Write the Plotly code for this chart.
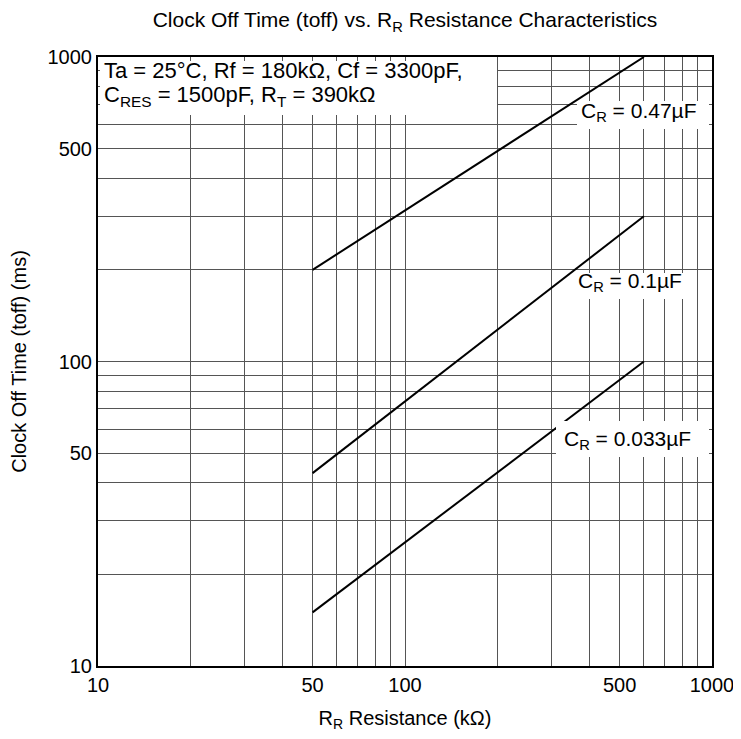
import plotly.graph_objects as go

# Data
r_kohm = [50, 600]
toff_047 = [200, 1000]
toff_01 = [43, 300]
toff_0033 = [15, 100]

series_names = ["C<sub>R</sub> = 0.47µF", "C<sub>R</sub> = 0.1µF", "C<sub>R</sub> = 0.033µF"]
series_values = [toff_047, toff_01, toff_0033]

major_ticks = [10, 50, 100, 500, 1000]
major_text = ["10", "50", "100", "500", "1000"]
minor_ticks = [20, 30, 40, 60, 70, 80, 90, 200, 300, 400, 600, 700, 800, 900]

cond_line1 = "Ta = 25°C, Rf = 180kΩ, Cf = 3300pF,"
cond_line2 = "C<sub>RES</sub> = 1500pF, R<sub>T</sub> = 390kΩ"

# ---- layout geometry (pixels in the page) ----
PL, PR, PT, PB = 98, 712, 57, 666


def px(x):
    return (x - PL) / (PR - PL)


def py(y):
    return (PB - y) / (PB - PT)


label_pos = [(580, 112), (577, 282), (563, 440)]            # text left, text centre
mask_boxes = [(100, 497, 61, 115),                            # conditions box
              (577, 709, 101, 129), (576, 690, 273, 299), (556, 709, 421, 457)]
cond_pos = [(103, 70.5), (103, 96)]

FONT = "Liberation Sans, Arial, sans-serif"
GRID = "#555555"

fig = go.Figure()
for name, ys in zip(series_names, series_values):
    fig.add_trace(go.Scatter(x=r_kohm, y=ys, mode="lines",
                             line=dict(color="black", width=2),
                             name=name, showlegend=False, hoverinfo="skip"))

# white boxes that hide the grid behind the texts
for (x0, x1, y0, y1) in mask_boxes:
    fig.add_annotation(text=" ", xref="paper", yref="paper", x=px(x0), y=py(y0),
                       xanchor="left", yanchor="top", showarrow=False,
                       width=x1 - x0, height=y1 - y0, borderpad=0, borderwidth=0,
                       bgcolor="white", font=dict(size=1))

for name, (xl, yl) in zip(series_names, label_pos):
    fig.add_annotation(text=name, xref="paper", yref="paper", x=px(xl), y=py(yl),
                       xanchor="left", yanchor="middle", showarrow=False, borderpad=0,
                       font=dict(family=FONT, size=21, color="black"))

for txt, (xl, yl) in zip([cond_line1, cond_line2], cond_pos):
    fig.add_annotation(text=txt, xref="paper", yref="paper", x=px(xl), y=py(yl),
                       xanchor="left", yanchor="middle", align="left", showarrow=False,
                       borderpad=0, font=dict(family=FONT, size=22, color="black"))

axis_common = dict(
    type="log", tickmode="array", tickvals=major_ticks, ticktext=major_text,
    showgrid=True, gridcolor=GRID, gridwidth=1,
    minor=dict(tickvals=minor_ticks, showgrid=True, gridcolor=GRID, gridwidth=1, ticks=""),
    showline=True, linecolor="black", linewidth=2, mirror=True,
    ticks="", zeroline=False, automargin=False,
    tickfont=dict(family=FONT, size=20, color="black"),
)

# page body has an 8px margin, so the figure is 8px smaller than the window
fig.update_layout(
    width=733, height=731,
    margin=dict(l=PL - 8, r=741 - PR, t=PT - 8, b=739 - PB),
    paper_bgcolor="white", plot_bgcolor="white",
    title=dict(text="Clock Off Time (toff) vs. R<sub>R</sub> Resistance Characteristics",
               x=397 / 733, xanchor="center", y=1 - 12 / 731, yanchor="middle",
               font=dict(family=FONT, size=21, color="black")),
    xaxis=dict(range=[1, 3],
               title=dict(text="R<sub>R</sub> Resistance (kΩ)", standoff=16,
                          font=dict(family=FONT, size=20, color="black")),
               **axis_common),
    yaxis=dict(range=[1, 3],
               title=dict(text="Clock Off Time (toff) (ms)", standoff=24,
                          font=dict(family=FONT, size=20, color="black")),
               **axis_common),
)

fig.write_html("out.html")
